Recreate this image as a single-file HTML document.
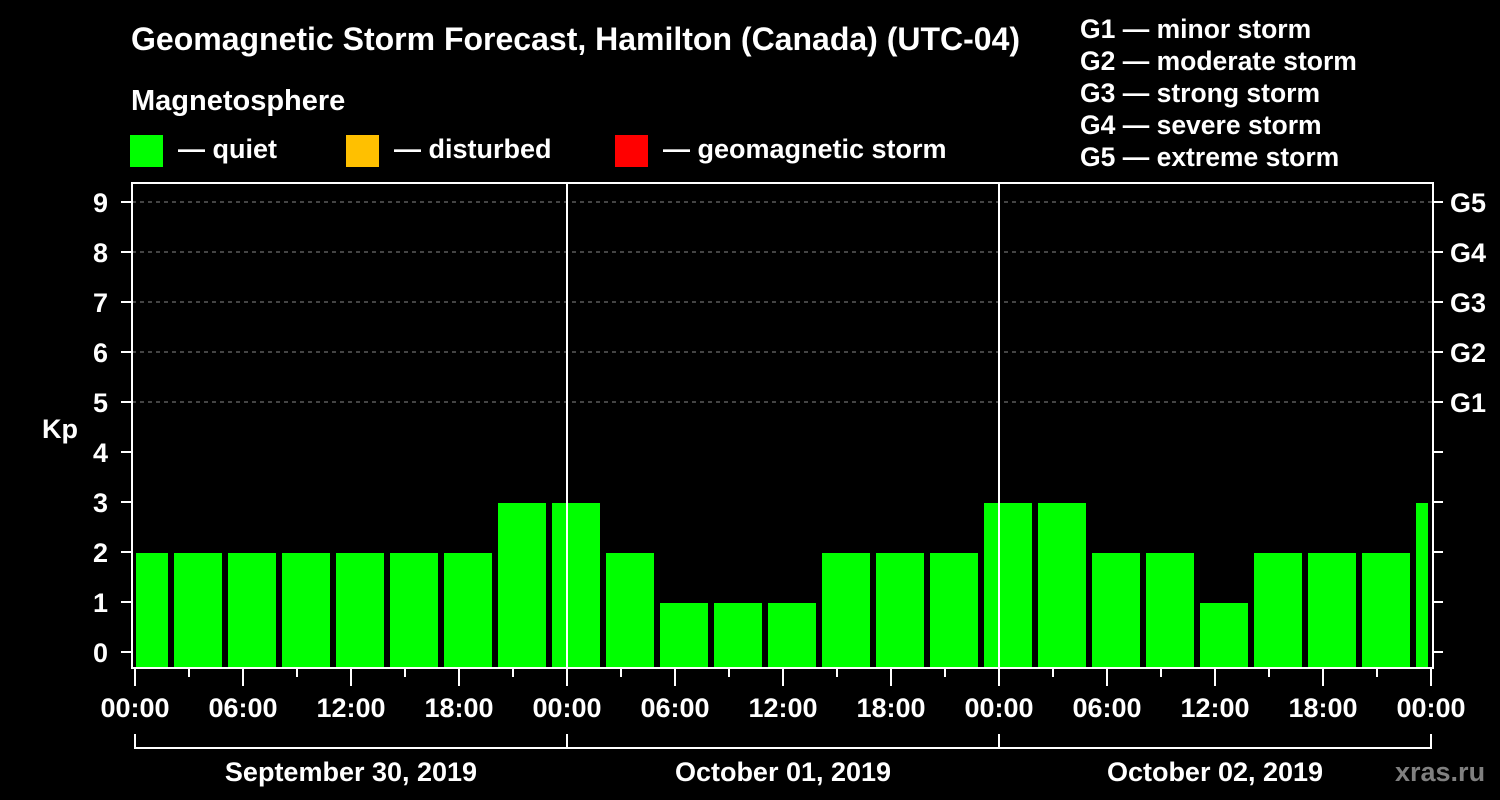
<!DOCTYPE html>
<html><head><meta charset="utf-8"><style>
html,body{margin:0;padding:0;background:#000;}
svg{display:block;font-family:"Liberation Sans",Arial,sans-serif;font-weight:bold;}
</style></head><body>
<svg id="chart" width="1500" height="800" viewBox="0 0 1500 800" xmlns="http://www.w3.org/2000/svg">
<rect width="1500" height="800" fill="#000"/>
<text x="131" y="50" fill="#fff" font-size="32">Geomagnetic Storm Forecast, Hamilton (Canada) (UTC-04)</text>
<text x="131" y="110" fill="#fff" font-size="29">Magnetosphere</text>
<g><rect x="130" y="135" width="33" height="32" fill="#00ff00"/><text x="178" y="158" fill="#fff" font-size="27">— quiet</text></g>
<g><rect x="346" y="135" width="33" height="32" fill="#ffc000"/><text x="394" y="158" fill="#fff" font-size="27">— disturbed</text></g>
<g><rect x="615" y="135" width="33" height="32" fill="#ff0000"/><text x="663" y="158" fill="#fff" font-size="27">— geomagnetic storm</text></g>
<g fill="#fff" font-size="26.5">
<text x="1080" y="38">G1 — minor storm</text>
<text x="1080" y="70">G2 — moderate storm</text>
<text x="1080" y="102">G3 — strong storm</text>
<text x="1080" y="134">G4 — severe storm</text>
<text x="1080" y="166">G5 — extreme storm</text>
</g>
<text x="42" y="438" fill="#fff" font-size="27">Kp</text>
<text x="1395" y="781" fill="#808080" font-size="27">xras.ru</text>
<g id="grid"></g>
<g id="bars"></g>
<g id="axes"></g>
</svg>
<script>
const kpValues = [2,2,2,2,2,2,2,3,3,2,1,1,1,2,2,2,3,3,2,2,1,2,2,2,3];
const yTicks = [0,1,2,3,4,5,6,7,8,9];
const gLabels = ["G1","G2","G3","G4","G5"];
const hourLabels = ["00:00","06:00","12:00","18:00","00:00","06:00","12:00","18:00","00:00","06:00","12:00","18:00","00:00"];
const dayLabels = ["September 30, 2019","October 01, 2019","October 02, 2019"];

const NS = "http://www.w3.org/2000/svg";
const X0 = 135, PXH = 18, Y0 = 652, PXK = 50;
const pLeft = 132, pRight = 1433, pTop = 183, pBot = 668;
const xs = h => X0 + h * PXH;
const ys = k => Y0 - k * PXK;
function mk(tag, attrs, parent){const e=document.createElementNS(NS,tag);for(const k in attrs)e.setAttribute(k,attrs[k]);parent.appendChild(e);return e;}
const gridG = document.getElementById('grid'), barsG = document.getElementById('bars'), axesG = document.getElementById('axes');

yTicks.forEach(k=>{
  if(k>=5){
    const l=mk('line',{x1:pLeft,x2:pRight,y1:ys(k),y2:ys(k),stroke:'#888','stroke-dasharray':'4,4','stroke-width':1},gridG);
    
    
  }
});

kpValues.forEach((v,i)=>{
  const center = xs(0.5 + 3*i);
  let x1 = center - 24, x2 = center + 24;
  x1 = Math.max(x1, 136); x2 = Math.min(x2, 1428);
  const r = mk('rect',{x:x1,y:ys(v)+1,width:x2-x1,height:pBot-1-(ys(v)+1),fill:v>=5?'#ff0000':(v>=4?'#ffc000':'#00ff00')},barsG);
  
  
});

[24,48].forEach(h=>{
  const l=mk('line',{x1:xs(h),x2:xs(h),y1:pTop,y2:pBot,stroke:'#fff','stroke-width':2},axesG);
  
  
});
const fr = mk('rect',{x:pLeft,y:pTop,width:pRight-pLeft,height:pBot-pTop,fill:'none',stroke:'#fff','stroke-width':2},axesG);



yTicks.forEach(k=>{
  mk('line',{x1:121,x2:pLeft,y1:ys(k),y2:ys(k),stroke:'#fff','stroke-width':2},axesG);
  mk('line',{x1:pRight,x2:1443,y1:ys(k),y2:ys(k),stroke:'#fff','stroke-width':2},axesG);
  const t=mk('text',{x:108,y:ys(k)+10,fill:'#fff','font-size':27,'text-anchor':'end'},axesG);
  t.textContent=k;
  
  
  if(k>=5){
    const g=mk('text',{x:1450,y:ys(k)+10,fill:'#fff','font-size':27},axesG);
    g.textContent=gLabels[k-5];
    
    
  }
});

for(let h=0; h<=72; h+=3){
  const major = h%6===0;
  mk('line',{x1:xs(h),x2:xs(h),y1:pBot,y2:major?686:677,stroke:'#fff','stroke-width':2},axesG);
}
hourLabels.forEach((s,i)=>{
  const t=mk('text',{x:xs(i*6),y:717,fill:'#fff','font-size':27,'text-anchor':'middle'},axesG);
  t.textContent=s;
  
  
});
mk('line',{x1:xs(0),x2:xs(72),y1:748,y2:748,stroke:'#fff','stroke-width':2},axesG);
[0,24,48,72].forEach(h=>mk('line',{x1:xs(h),x2:xs(h),y1:734,y2:749,stroke:'#fff','stroke-width':2},axesG));
dayLabels.forEach((s,i)=>{
  const t=mk('text',{x:xs(12+24*i),y:781,fill:'#fff','font-size':27,'text-anchor':'middle'},axesG);
  t.textContent=s;
  
  
});
</script>
</body></html>
